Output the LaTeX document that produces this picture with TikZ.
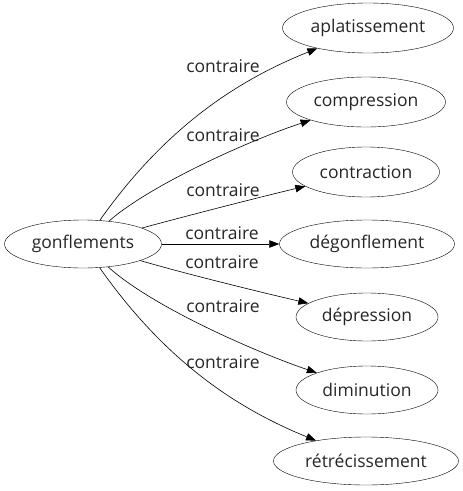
\documentclass[tikz,border=0pt]{standalone}
\usepackage{fontspec}
\setmainfont{Open Sans}
\usetikzlibrary{shapes.geometric,arrows.meta}
\begin{document}
\begin{tikzpicture}[x=1pt,y=-1pt,
base/.style={%
ellipse,
draw,
inner sep=0,
minimum height=48pt,
text=black!85,
font={\fontsize{17.5pt}{19}\selectfont},
},
rel/.style={%
text=black!85,
font={\fontsize{17.5pt}{19}\selectfont},
inner sep=0,
},
link/.style={%
-{Triangle[length=10pt,width=7.5pt]},
line width=0.6pt,
}
]
\useasboundingbox (0,0) rectangle (463,491);

%source
\node[base,minimum width=157pt](g)at(83,244){gonflements};

%targets
\node[base,minimum width=171pt,minimum height=50pt](t1)at(368,28){aplatissement};
\node[base,minimum width=159pt,minimum height=50pt](t2)at(366,102){compression};
\node[base,minimum width=147pt,minimum height=50pt](t3)at(366,172){contraction};
\node[base,minimum width=175pt](t4)at(367,244){dégonflement};
\node[base,minimum width=142pt](t5)at(367,317){dépression};
\node[base,minimum width=142pt](t6)at(367,390){diminution};
\node[base,minimum width=185pt](t7)at(366,461){rétrécissement};

%edges
\draw[link](g) .. controls (168,124) and (241,79) .. (t1);
\draw[link](g) .. controls (150,185) and (250,140) .. (t2);
\draw[link](g) .. controls (190,215) and (260,197) .. (t3);
\draw[link](g) -- (t4);
\draw[link](g) .. controls (190,275) and (260,292) .. (t5);
\draw[link](g) .. controls (150,305) and (250,350) .. (t6);
\draw[link](g) .. controls (168,365) and (241,410) .. (t7);

%labels
\node[rel](l1)at(223,66){contraire};
\node[rel](l2)at(223,135){contraire};
\node[rel](l3)at(223,190){contraire};
\node[rel](l4)at(222,233){contraire};
\node[rel](l5)at(222,262){contraire};
\node[rel](l6)at(223,306){contraire};
\node[rel](l7)at(223,362){contraire};
\end{tikzpicture}
\end{document}
